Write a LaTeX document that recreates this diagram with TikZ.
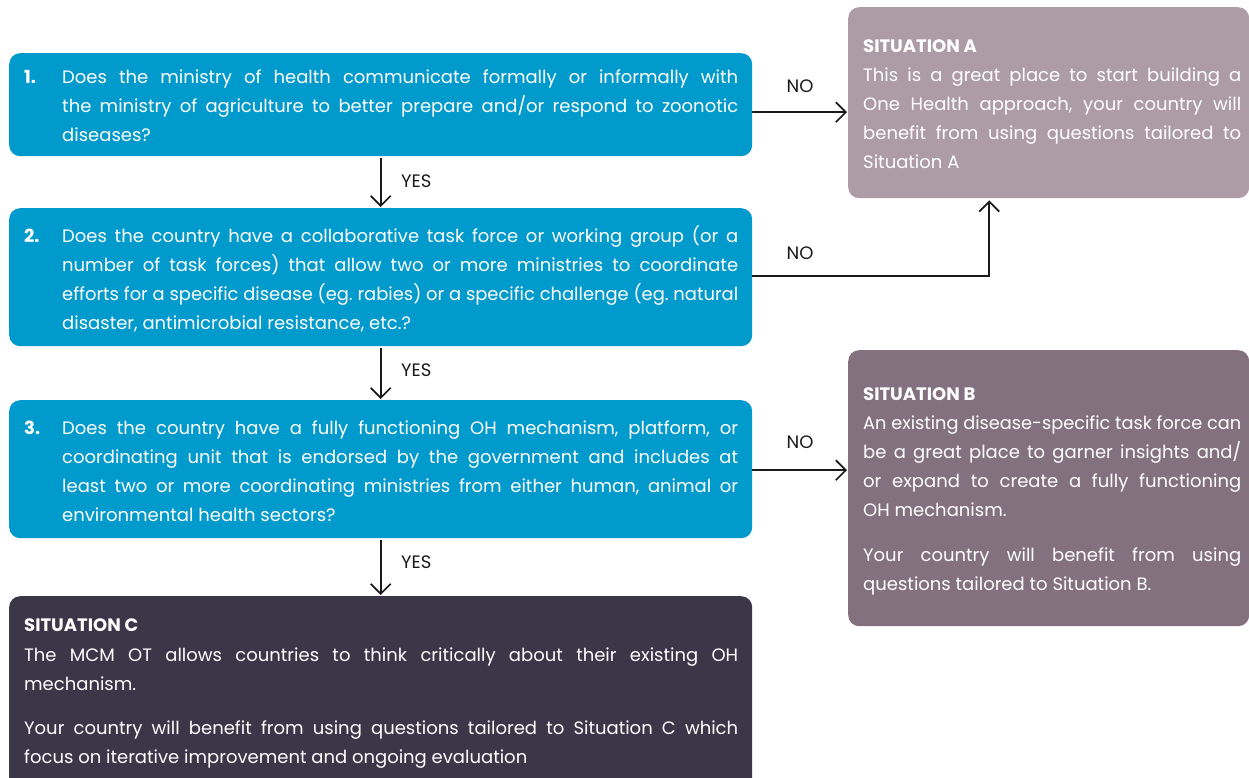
\documentclass[tikz,border=0pt]{standalone}
\usepackage{fontspec}
\setmainfont{Poppins}
\usetikzlibrary{arrows.meta}
\definecolor{qblue}{HTML}{009ACD}
\definecolor{sitA}{HTML}{AD9CA6}
\definecolor{sitB}{HTML}{84717F}
\definecolor{sitC}{HTML}{3C3649}
\definecolor{ink}{HTML}{1A1A1A}
\frenchspacing
\newsavebox\mylinebox
\newcommand{\jline}[1]{\sbox\mylinebox{#1}%
  \ifdim\wd\mylinebox>\linewidth
    \pgfmathsetmacro\myratio{\the\linewidth/\the\wd\mylinebox}%
    \scalebox{\myratio}[1]{\usebox\mylinebox}%
  \else\makebox[\linewidth][s]{#1}\fi\par}
\newcommand{\lline}[1]{\sbox\mylinebox{#1}%
  \ifdim\wd\mylinebox>\linewidth
    \pgfmathsetmacro\myratio{\the\linewidth/\the\wd\mylinebox}%
    \scalebox{\myratio}[1]{\usebox\mylinebox}%
  \else\makebox[\linewidth][l]{#1}\fi\par}
\newcommand{\bodyfont}{\fontsize{18}{29}\selectfont}
\tikzset{
  panel/.style={rounded corners=11pt, draw=none, anchor=north west, inner sep=0pt},
  txt/.style={anchor=base west, inner sep=0pt, text=white, align=left},
  lbl/.style={inner sep=0pt, text=ink, font=\fontsize{18}{20}\selectfont},
  arr/.style={line width=1.7pt, draw=ink, -{Straight Barb[length=10pt,width=20pt,line width=1.7pt]}},
}
\begin{document}
\begin{tikzpicture}[x=1pt,y=-1pt]
\clip (0,0) rectangle (1249,778);
\fill[white] (0,0) rectangle (1249,778);
% boxes
\node[panel, fill=qblue, minimum width=743pt, minimum height=103pt] (q1) at (9,53) {};
\node[panel, fill=qblue, minimum width=743pt, minimum height=138pt] (q2) at (9,208) {};
\node[panel, fill=qblue, minimum width=743pt, minimum height=138pt] (q3) at (9,400) {};
\node[panel, fill=sitC, minimum width=743pt, minimum height=200pt] (qc) at (9,596) {};
\node[panel, fill=sitA, minimum width=401pt, minimum height=191pt] (qa) at (848,7) {};
\node[panel, fill=sitB, minimum width=401pt, minimum height=276pt] (qb) at (848,350) {};
% texts
\node[txt] (t1) at (24,83.5) {\bodyfont\makebox[38pt][l]{\textbf{1.}}\parbox[t]{676pt}{\bodyfont
\jline{Does the ministry of health communicate formally or informally with}
\jline{the ministry of agriculture to better prepare and/or respond to zoonotic}
\lline{diseases?}}};
\node[txt] (t2) at (24,242.5) {\bodyfont\makebox[38pt][l]{\textbf{2.}}\parbox[t]{676pt}{\bodyfont
\jline{Does the country have a collaborative task force or working group (or a}
\jline{number of task forces) that allow two or more ministries to coordinate}
\jline{efforts for a specific disease (eg. rabies) or a specific challenge (eg. natural}
\lline{disaster, antimicrobial resistance, etc.?}}};
\node[txt] (t3) at (24,434.5) {\bodyfont\makebox[38pt][l]{\textbf{3.}}\parbox[t]{676pt}{\bodyfont
\jline{Does the country have a fully functioning OH mechanism, platform, or}
\jline{coordinating unit that is endorsed by the government and includes at}
\jline{least two or more coordinating ministries from either human, animal or}
\lline{environmental health sectors?}}};
\node[txt] (ta) at (863,52.5) {\parbox[t]{378pt}{\bodyfont
\lline{\textbf{SITUATION A}}
\jline{This is a great place to start building a}
\jline{One Health approach, your country will}
\jline{benefit from using questions tailored to}
\lline{Situation A}}};
\node[txt] (tb) at (863,400.5) {\parbox[t]{378pt}{\bodyfont
\lline{\textbf{SITUATION B}}
\jline{An existing disease-specific task force can}
\jline{be a great place to garner insights and/}
\jline{or expand to create a fully functioning}
\lline{OH mechanism.}
\vspace{16pt}
\jline{Your country will benefit from using}
\lline{questions tailored to Situation B.}}};
\node[txt] (tc) at (24,631.5) {\parbox[t]{714pt}{\fontsize{18}{29.5}\selectfont
\lline{\textbf{SITUATION C}}
\jline{The MCM OT allows countries to think critically about their existing OH}
\lline{mechanism.}
\vspace{14pt}
\jline{Your country will benefit from using questions tailored to Situation C which}
\lline{focus on iterative improvement and ongoing evaluation}}};
% connectors
\draw[arr, shorten <=2pt, shorten >=1pt] (q1.south) -- (q2.north);
\draw[arr, shorten <=2pt, shorten >=1pt] (q2.south) -- (q3.north);
\draw[arr, shorten <=2pt, shorten >=1pt] (q3.south) -- (qc.north);
\draw[arr, shorten >=1pt] ([yshift=-7.5pt]q1.east) -- ([yshift=-7.5pt]q1.east -| qa.west);
\draw[arr, shorten >=2pt] ([yshift=1pt]q2.east) -| ([xshift=-59.5pt]qa.south);
\draw[arr, shorten >=1pt] ([yshift=-1pt]q3.east) -- ([yshift=-1pt]q3.east -| qb.west);
% labels
\node[lbl, anchor=west] (y1) at (401,181) {YES};
\node[lbl, anchor=west] (y2) at (401,370) {YES};
\node[lbl, anchor=west] (y3) at (401,562) {YES};
\node[lbl] (n1) at (800,86) {NO};
\node[lbl] (n2) at (800,253) {NO};
\node[lbl] (n3) at (800,442) {NO};
\end{tikzpicture}
\end{document}
